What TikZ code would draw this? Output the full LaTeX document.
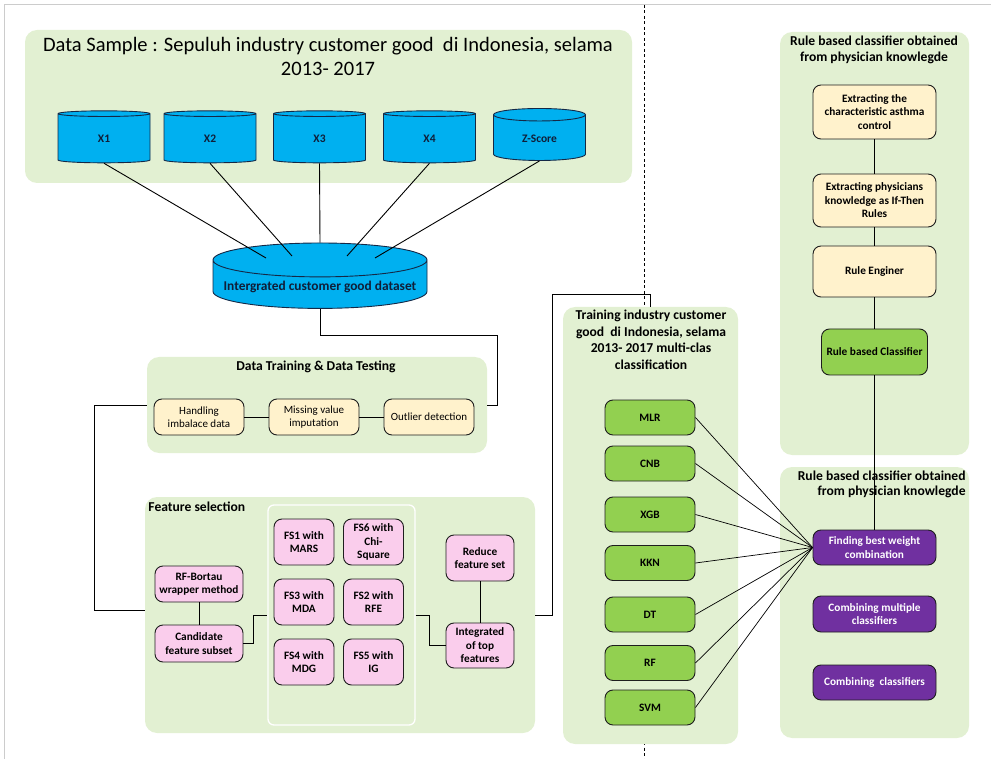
\documentclass[tikz,border=0pt]{standalone}
\usepackage{fontspec}
\setmainfont{Carlito}
\usetikzlibrary{shapes.geometric,positioning}

\definecolor{panelgreen}{RGB}{226,240,210}
\definecolor{dbblue}{RGB}{0,176,240}
\definecolor{dbline}{RGB}{20,40,70}
\definecolor{dbtext}{RGB}{16,30,56}
\definecolor{creambox}{RGB}{255,242,204}
\definecolor{pinkbox}{RGB}{250,205,236}
\definecolor{clfgreen}{RGB}{146,208,80}
\definecolor{ensviolet}{RGB}{112,48,160}
\definecolor{boxline}{RGB}{30,30,30}

\tikzset{
  panel/.style={fill=panelgreen, rounded corners=12pt, inner sep=0pt},
  db/.style={cylinder, shape border rotate=90, aspect=0.3, draw=dbline, fill=dbblue,
    line width=0.9pt, text=dbtext, minimum width=92pt, minimum height=52pt,
    font=\fontsize{11.5}{13}\selectfont\bfseries},
  box/.style={draw=boxline, rounded corners=8pt, line width=0.9pt, align=center,
    inner sep=1pt, font=\fontsize{11.3}{13.5}\selectfont\bfseries},
  creamy/.style={box, fill=creambox},
  pinky/.style={box, fill=pinkbox},
  clf/.style={box, fill=clfgreen, minimum width=90pt, minimum height=35pt},
  ens/.style={box, fill=ensviolet, text=white, minimum width=123pt, minimum height=35pt},
  paneltitle/.style={align=center, inner sep=0pt, font=\fontsize{13.6}{16.5}\selectfont\bfseries}
}

\begin{document}
\begin{tikzpicture}[x=1pt, y=-1pt, on grid, line width=0.9pt]
\useasboundingbox (0,0) rectangle (991,759);

% frame and divider
\draw[black!20, line width=1pt] (4,759) -- (4,5) -- (991,5);
\draw[dash pattern=on 3pt off 2.5pt] (644,5) -- (644,759);

% panels
\node[panel, minimum width=607pt, minimum height=153pt] (sample) at (328.5,106.5) {};
\node[panel, minimum width=340pt, minimum height=96pt] (prep) at (317,405) {};
\node[panel, minimum width=390pt, minimum height=236pt] (fsel) at (340,615) {};
\node[draw=white, line width=1.3pt, rounded corners=6pt, minimum width=147pt, minimum height=220pt] (fsgrid) at (341.5,615) {};
\node[panel, minimum width=175pt, minimum height=437pt] (train) at (650.5,525.5) {};
\node[panel, minimum width=189pt, minimum height=423pt] (rule) at (874.5,243.5) {};
\node[panel, minimum width=189pt, minimum height=271pt] (ensp) at (874.5,602.5) {};

% data sample
\node[align=center, font=\fontsize{20.5}{24}\selectfont] (sampletitle) at (328,56)
  {Data Sample : Sepuluh industry customer good\ \ di Indonesia, selama\\2013- 2017};
\node[db] (x1) at (104,139) {X1};
\node[db] (x2) [right=106pt of x1] {X2};
\node[db] (x3) [right=109.5pt of x2] {X3};
\node[db] (x4) [right=110pt of x3] {X4};
\node[db] (zs) [right=110pt of x4] {Z-Score};
\node[db, aspect=0.17, minimum width=214pt, minimum height=63pt,
  font=\fontsize{13.4}{15}\selectfont\bfseries] (dataset) at (320,286.5) {Intergrated customer good dataset};

% data training and testing
\node[paneltitle] (preptitle) at (316,367) {Data Training \& Data Testing};
\node[creamy, font=\fontsize{11}{13}\selectfont, minimum width=90pt, minimum height=36pt] (imb) at (199,417) {Handling\\imbalace data};
\node[creamy, font=\fontsize{11}{13}\selectfont, minimum width=90pt, minimum height=36pt] (miss) [right=115pt of imb] {Missing value\\imputation};
\node[creamy, font=\fontsize{11}{13}\selectfont, minimum width=90pt, minimum height=36pt] (outl) [right=115pt of miss] {Outlier detection};

% feature selection
\node[paneltitle, anchor=west] (fseltitle) at (148,507) {Feature selection};
\node[pinky, minimum width=88pt, minimum height=36pt] (bortau) at (199,584) {RF-Bortau\\wrapper method};
\node[pinky, minimum width=88pt, minimum height=37pt] (cand) [below=59.5pt of bortau] {Candidate\\feature subset};
\node[pinky, minimum width=60pt, minimum height=46pt] (fs1) at (304,542) {FS1 with\\MARS};
\node[pinky, minimum width=60pt, minimum height=46pt] (fs6) [right=69.5pt of fs1] {FS6 with\\Chi-\\Square};
\node[pinky, minimum width=60pt, minimum height=46pt] (fs3) [below=60pt of fs1] {FS3 with\\MDA};
\node[pinky, minimum width=60pt, minimum height=46pt] (fs2) [right=69.5pt of fs3] {FS2 with\\RFE};
\node[pinky, minimum width=60pt, minimum height=46pt] (fs4) [below=60pt of fs3] {FS4 with\\MDG};
\node[pinky, minimum width=60pt, minimum height=46pt] (fs5) [right=69.5pt of fs4] {FS5 with\\IG};
\node[pinky, minimum width=68pt, minimum height=46pt] (reduce) at (480,558) {Reduce\\feature set};
\node[pinky, minimum width=68pt, minimum height=45pt] (integ) [below=87.5pt of reduce] {Integrated\\of top\\features};

% training classifiers
\node[paneltitle] (traintitle) at (651,340)
  {Training industry customer\\good\ \ di Indonesia, selama\\2013- 2017 multi-clas\\classification};
\node[clf] (mlr) at (650,417.5) {MLR};
\node[clf] (cnb) [below=46pt of mlr] {CNB};
\node[clf] (xgb) [below=51pt of cnb] {XGB};
\node[clf] (kkn) [below=48.5pt of xgb] {KKN};
\node[clf] (dt) [below=51.5pt of kkn] {DT};
\node[clf] (rf) [below=48.5pt of dt] {RF};
\node[clf] (svm) [below=44.5pt of rf] {SVM};

% rule based classifier
\node[paneltitle, font=\fontsize{13.6}{16}\selectfont\bfseries] (ruletitle) at (874,50)
  {Rule based classifier obtained\\from physician knowlegde};
\node[creamy, minimum width=123pt, minimum height=54pt] (char) at (874.5,112) {Extracting the\\characteristic asthma\\control};
\node[creamy, minimum width=123pt, minimum height=53pt] (know) [below=88.5pt of char] {Extracting physicians\\knowledge as If-Then\\Rules};
\node[creamy, minimum width=123pt, minimum height=51pt] (engine) [below=71pt of know] {Rule Enginer};
\node[box, fill=clfgreen, minimum width=106pt, minimum height=46pt] (rbc) [below=80.5pt of engine] {Rule based Classifier};

% ensemble
\node[paneltitle, font=\fontsize{13.6}{15}\selectfont\bfseries, align=right, anchor=east] (enstitle) at (966,484.5)
  {Rule based classifier obtained\\from physician knowlegde};
\node[ens] (best) at (874.5,547.5) {Finding best weight\\combination};
\node[ens, minimum height=36pt] (multi) [below=66.5pt of best] {Combining multiple\\classifiers};
\node[ens] (comb) [below=68.5pt of multi] {Combining\ \ classifiers};

% connectors
\draw (x1.south) -- (266,258);
\draw (x2.south) -- (292,256);
\draw (x3.south) -- (dataset.north);
\draw (x4.south) -- (347,256);
\draw (zs.south) -- (375,258);
\draw (dataset.south) -- ++(0,27) -| ([xshift=10pt]prep.east) -- (prep.east);
\draw (imb) -- (miss);
\draw (miss) -- (outl);
\draw (prep.west) -- ++(-52,0) |- ([yshift=5pt]fsel.west);
\draw (bortau) -- (cand);
\draw (cand.east) -- ++(10,0) |- (fsgrid.west);
\draw (fsgrid.east) -- ++(14,0) |- (integ.west);
\draw (reduce) -- (integ);
\draw (fsel.east) -- ++(17,0) |- ([yshift=12pt]train.north) -- (train.north);
\draw (char) -- (know);
\draw (know) -- (engine);
\draw (engine) -- (rbc);
\draw (rbc) -- (best);
\path[draw, line width=0.7pt]
  (mlr.east) edge (best.west)
  (cnb.east) edge (best.west)
  (xgb.east) edge (best.west)
  (kkn.east) edge (best.west)
  (dt.east) edge (best.west)
  (rf.east) edge (best.west)
  (svm.east) edge (best.west);

\end{tikzpicture}
\end{document}
